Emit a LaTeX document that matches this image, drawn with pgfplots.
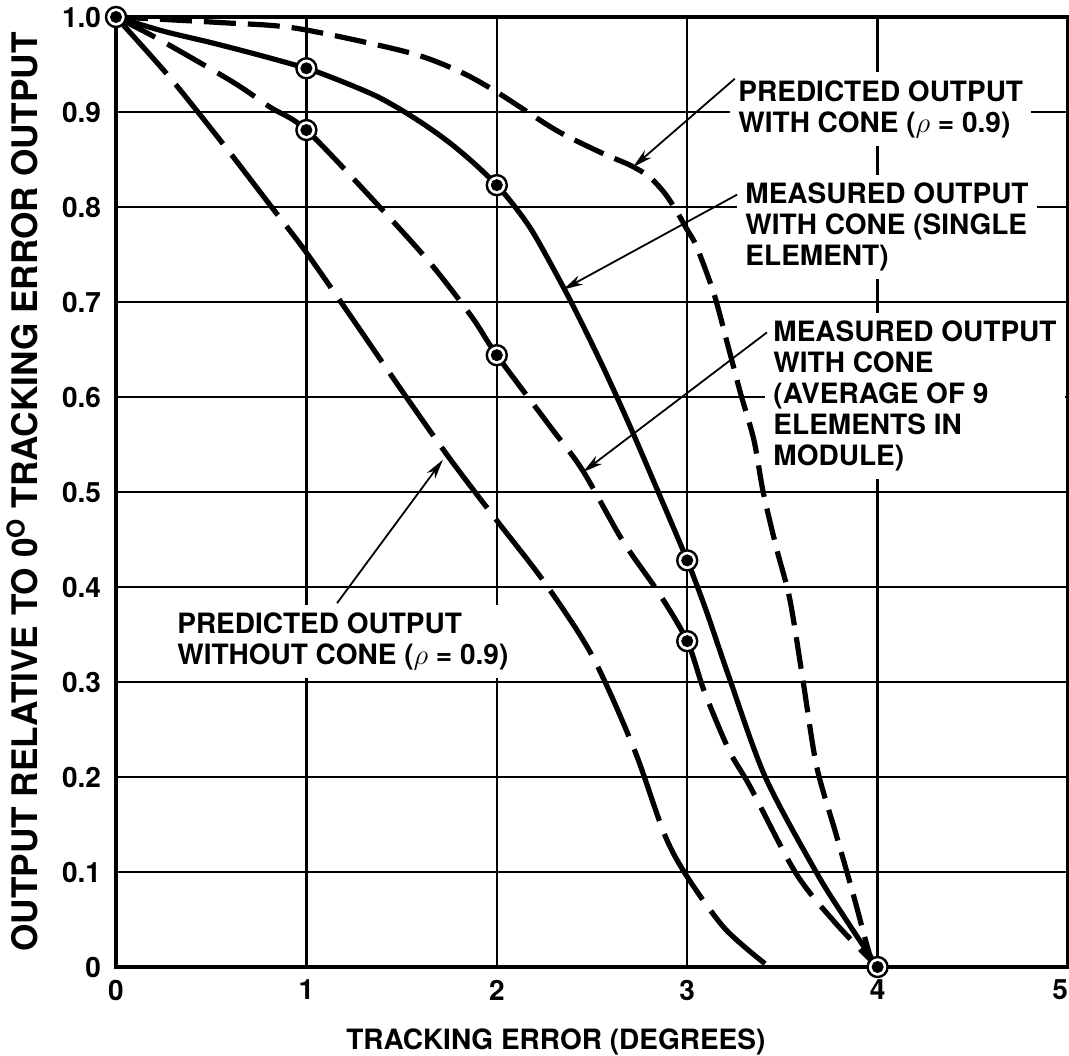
\documentclass[border=0pt]{standalone}
\usepackage{fontspec}
\setmainfont{TeX Gyre Heros}
\usepackage{pgfplots}
\pgfplotsset{compat=1.18}
\usetikzlibrary{arrows.meta}

\newcommand{\lbl}{\fontsize{14}{15.5}\selectfont\bfseries}
\newcommand{\ylbl}{\fontsize{17.6}{20}\selectfont\bfseries}

\begin{document}
\begin{tikzpicture}
\begin{axis}[
  at={(0,0)}, anchor=south west,
  scale only axis, width=476pt, height=475pt,
  xmin=0, xmax=5, ymin=0, ymax=1,
  xtick={0,1,2,3,4,5},
  xticklabels={0,1,2,3,4,\hbox to 0pt{\hss 5}},
  ytick={0,0.1,0.2,0.3,0.4,0.5,0.6,0.7,0.8,0.9,1},
  yticklabels={0,0.1,0.2,0.3,0.4,0.5,0.6,0.7,0.8,0.9,1.0},
  grid=major,
  major grid style={line width=1.2pt, black},
  major tick length=0pt,
  axis line style={line width=2pt},
  tick label style={font=\lbl},
  yticklabel style={xshift=-4pt},
  xticklabel style={yshift=-3pt},
  xlabel={TRACKING ERROR (DEGREES)},
  ylabel={OUTPUT RELATIVE TO 0\textsuperscript{O} TRACKING ERROR OUTPUT},
  xlabel style={font=\lbl, at={(axis description cs:0.462,-0.079)}, anchor=center},
  ylabel style={font=\ylbl, at={(axis description cs:-0.0987,0.5)}, anchor=center},
  clip=false,
]

% predicted output with cone
\addplot[line width=2.6pt, smooth, tension=0.5, dash pattern=on 16pt off 6pt] coordinates {
  (0,1.0) (0.56,0.994) (0.95,0.988) (1.53,0.963) (1.8,0.943) (2.0,0.921)
  (2.31,0.881) (2.55,0.857) (2.70,0.844) (2.80,0.832) (2.88,0.815)
  (2.94,0.797) (3.0,0.776) (3.05,0.758) (3.14,0.709) (3.21,0.657)
  (3.28,0.604) (3.35,0.555) (3.40,0.499) (3.47,0.440) (3.54,0.386)
  (3.61,0.299) (3.68,0.211) (3.78,0.141) (3.87,0.078) (3.96,0.012) (4,0)
};

% measured output with cone, single element
\addplot[line width=2.6pt, smooth, tension=0.5] coordinates {
  (0,1.0) (0.25,0.985) (0.5,0.973) (0.75,0.960) (1,0.946) (1.125,0.937)
  (1.25,0.927) (1.375,0.916) (1.5,0.902) (1.625,0.886) (1.75,0.868)
  (1.875,0.847) (2,0.823) (2.1,0.799) (2.2,0.770) (2.38,0.704) (2.55,0.635)
  (2.70,0.569) (2.85,0.499) (3,0.428) (3.1,0.375) (3.22,0.305) (3.41,0.200)
  (3.68,0.099) (3.85,0.045) (4,0)
};

% measured output with cone, average of 9 elements
\addplot[line width=2.6pt, smooth, tension=0.5, dash pattern=on 22pt off 7pt] coordinates {
  (0,1.0) (0.23,0.976) (0.61,0.932) (0.81,0.905) (1,0.881) (1.385,0.80)
  (1.65,0.741) (1.87,0.684) (2,0.644) (2.28,0.569) (2.45,0.523)
  (2.66,0.449) (2.85,0.394) (3,0.343) (3.09,0.29) (3.22,0.228)
  (3.33,0.19) (3.57,0.099) (3.78,0.046) (4,0)
};

% predicted output without cone
\addplot[line width=2.6pt, smooth, tension=0.5, dash pattern=on 38pt off 7pt] coordinates {
  (0,1.0) (0.28,0.937) (0.56,0.867) (0.84,0.794) (1,0.752) (1.25,0.68)
  (1.5,0.607) (1.75,0.536) (2,0.470) (2.25,0.405) (2.5,0.328) (2.72,0.230)
  (2.88,0.140) (3.0,0.095) (3.2,0.040) (3.43,0)
};

% measured points
\addplot[only marks, mark=*, mark size=5pt,
  mark options={fill=white, draw=black, line width=1.2pt}] coordinates {
  (0,1) (1,0.946) (2,0.823) (3,0.428) (4,0) (1,0.881) (2,0.644) (3,0.343)
};
\addplot[only marks, mark=*, mark size=2.8pt, black] coordinates {
  (0,1) (1,0.946) (2,0.823) (3,0.428) (4,0) (1,0.881) (2,0.644) (3,0.343)
};

% annotations
\tikzset{lab/.style={fill=white, inner xsep=4pt, inner ysep=4pt, align=left,
  anchor=north west, font=\lbl}}
\node[lab] at (axis cs:3.225,0.942) {PREDICTED OUTPUT\\WITH CONE ({\normalfont$\rho$} = 0.9)};
\node[lab] at (axis cs:3.262,0.834) {MEASURED OUTPUT\\WITH CONE (SINGLE\\ELEMENT)};
\node[lab] at (axis cs:3.409,0.689) {MEASURED OUTPUT\\WITH CONE\\(AVERAGE OF 9\\ELEMENTS IN\\MODULE)};
\node[lab] at (axis cs:0.278,0.382) {PREDICTED OUTPUT\\WITHOUT CONE ({\normalfont$\rho$} = 0.9)};

\tikzset{ann/.style={line width=0.9pt, -{Stealth[length=10pt, width=5pt, inset=3pt]}}}
\draw[ann] (axis cs:3.25,0.935) -- (axis cs:2.715,0.842);
\draw[ann] (axis cs:3.262,0.813) -- (axis cs:2.348,0.713);
\draw[ann] (axis cs:3.419,0.668) -- (axis cs:2.453,0.521);
\draw[ann] (axis cs:1.161,0.383) -- (axis cs:1.717,0.534);

\draw[line width=2pt] (rel axis cs:0,0) rectangle (rel axis cs:1,1);
\end{axis}
\pgfresetboundingbox
\path[use as bounding box] (-58pt,-44pt) rectangle (476.5pt,483.5pt);
\end{tikzpicture}
\end{document}
